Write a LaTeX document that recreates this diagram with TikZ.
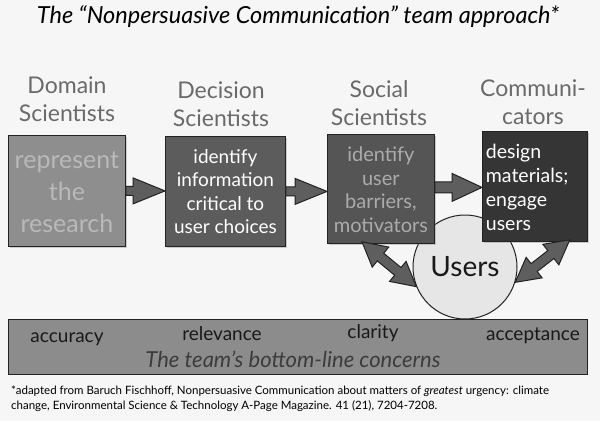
\documentclass[tikz,border=0pt]{standalone}
\usepackage{fontspec}
\setmainfont{Lato}
\usetikzlibrary{calc,shadows}
\definecolor{bg}{HTML}{F6F6F6}
\definecolor{hdr}{HTML}{6A6A6A}
\definecolor{fillA}{HTML}{8E8E8E}
\definecolor{textA}{HTML}{B9B9B9}
\definecolor{fillB}{HTML}{5C5C5C}
\definecolor{fillC}{HTML}{555555}
\definecolor{textC}{HTML}{ABABAB}
\definecolor{fillD}{HTML}{353535}
\definecolor{edge}{HTML}{222222}
\definecolor{arrfill}{HTML}{5E5E5E}
\definecolor{userfill}{HTML}{E6E6E6}
\definecolor{barfill}{HTML}{8C8C8C}
\definecolor{concern}{HTML}{3C3C3C}
\newcommand\blockarr[5]{%
  \coordinate (tmpP) at ($(#2)!#5!(#1)$);
  \draw[barrow] ($(#1)!#3!90:(#2)$) -- ($(tmpP)!#3!90:(#2)$) -- ($(tmpP)!#4!90:(#2)$)
    -- (#2) -- ($(tmpP)!#4!-90:(#2)$) -- ($(tmpP)!#3!-90:(#2)$) -- ($(#1)!#3!-90:(#2)$) -- cycle;}
\newcommand\dblarr[5]{%
  \coordinate (tmpP) at ($(#2)!#5!(#1)$);
  \coordinate (tmpQ) at ($(#1)!#5!(#2)$);
  \draw[barrow] (#1) -- ($(tmpQ)!#4!90:(#2)$) -- ($(tmpQ)!#3!90:(#2)$) -- ($(tmpP)!#3!90:(#2)$) -- ($(tmpP)!#4!90:(#2)$)
    -- (#2) -- ($(tmpP)!#4!-90:(#2)$) -- ($(tmpP)!#3!-90:(#2)$) -- ($(tmpQ)!#3!-90:(#2)$) -- ($(tmpQ)!#4!-90:(#2)$) -- cycle;}
\tikzset{
  hdrtext/.style={text=hdr, align=center, font=\fontsize{23}{28}\selectfont, inner sep=0pt, anchor=base},
  boxnode/.style={draw=edge, line width=0.8pt, anchor=north west, inner sep=0pt,
     drop shadow={opacity=0.35, shadow xshift=1.5pt, shadow yshift=-1.5pt}},
  barrow/.style={draw=edge, fill=arrfill, line width=1pt, line join=miter},
}
\begin{document}
\begin{tikzpicture}[x=1pt,y=-1pt]
\fill[bg] (0,0) rectangle (600,421);
\useasboundingbox (0,0) rectangle (600,421);

\node[anchor=base, inner sep=0pt, font=\fontsize{23.5}{28}\itshape\selectfont] (title) at (298,23)
  {The “Nonpersuasive Communication” team approach*};

\node[hdrtext] (h1) at (67,121) {Domain\\Scientists};
\node[hdrtext] (h2) at (221,126) {Decision\\Scientists};
\node[hdrtext] (h3) at (379,125) {Social\\Scientists};
\node[hdrtext] (h4) at (533,124) {Communi-\\cators};

\node[circle, draw=edge, fill=userfill, line width=1pt, minimum size=104pt, inner sep=0pt,
  font=\fontsize{28}{30}\selectfont, text=black!90] (users) at (465,267) {Users};

\node[boxnode, fill=fillA, minimum width=117pt, minimum height=111pt] (b1) at (8,135) {};
\node[text=textA, align=center, font=\fontsize{25}{32}\selectfont] (t1) at ($(b1.center)+(0,1)$) {represent\\the\\research};
\node[boxnode, fill=fillB, minimum width=120pt, minimum height=110pt] (b2) at (165,136) {};
\node[text=white, align=center, font=\fontsize{19}{23.5}\selectfont] (t2) at ($(b2.center)+(0,0)$) {identify\\information\\critical to\\user choices};
\node[boxnode, fill=fillC, minimum width=107pt, minimum height=109pt] (b3) at (327,134) {};
\node[text=textC, align=center, font=\fontsize{20}{23.5}\selectfont] (t3) at ($(b3.center)+(0,1)$) {identify\\user\\barriers,\\motivators};
\node[boxnode, fill=fillD, minimum width=105pt, minimum height=110pt] (b4) at (482,131) {};
\node[text=white, align=left, text width=98pt, inner sep=0pt, font=\fontsize{19.5}{24}\selectfont] (t4) at ($(b4.center)+(0,1)$) {design\\materials;\\engage\\users};

\coordinate (a1s) at (b1.east);
\coordinate (a1e) at (b2.west |- b1.east);
\blockarr{a1s}{a1e}{4.5pt}{13pt}{32pt}
\coordinate (a2s) at (b2.east);
\coordinate (a2e) at (b3.west |- b2.east);
\blockarr{a2s}{a2e}{4.5pt}{13pt}{32pt}
\coordinate (a3s) at ($(b3.east)+(0,-1.5)$);
\coordinate (a3e) at (b4.west |- a3s);
\blockarr{a3s}{a3e}{5.5pt}{14pt}{30pt}

\coordinate (d1s) at ($(b3.south west)+(35,-2)$);
\dblarr{d1s}{users.202}{5pt}{13pt}{24pt}
\coordinate (d2s) at ($(b4.south east)+(-18,-2)$);
\dblarr{d2s}{users.343}{5pt}{13pt}{24pt}

\node[draw=edge, fill=barfill, line width=1pt, anchor=north west, minimum width=579pt, minimum height=55pt, inner sep=0pt] (bar) at (8,319) {};
\node[anchor=base, inner sep=0pt, font=\fontsize{19}{20}\selectfont, text=black!90] (c1) at (67,342) {accuracy};
\node[anchor=base, inner sep=0pt, font=\fontsize{19}{20}\selectfont, text=black!90] (c2) at (222,340) {relevance};
\node[anchor=base, inner sep=0pt, font=\fontsize{19}{20}\selectfont, text=black!90] (c3) at (373,338) {clarity};
\node[anchor=base, inner sep=0pt, font=\fontsize{19}{20}\selectfont, text=black!90] (c4) at (533,340) {acceptance};
\node[anchor=base, inner sep=0pt, font=\fontsize{22}{24}\itshape\selectfont, text=concern] (c5) at (293,367) {The team’s bottom-line concerns};

\node[anchor=base west, inner sep=0pt, align=left, font=\fontsize{11.5}{15}\selectfont] (fn) at (11,409)
  {*adapted from Baruch Fischhoff, Nonpersuasive Communication about matters of \textit{greatest} urgency: climate\\change, Environmental Science \& Technology A-Page Magazine. 41 (21), 7204-7208.};
\end{tikzpicture}
\end{document}
